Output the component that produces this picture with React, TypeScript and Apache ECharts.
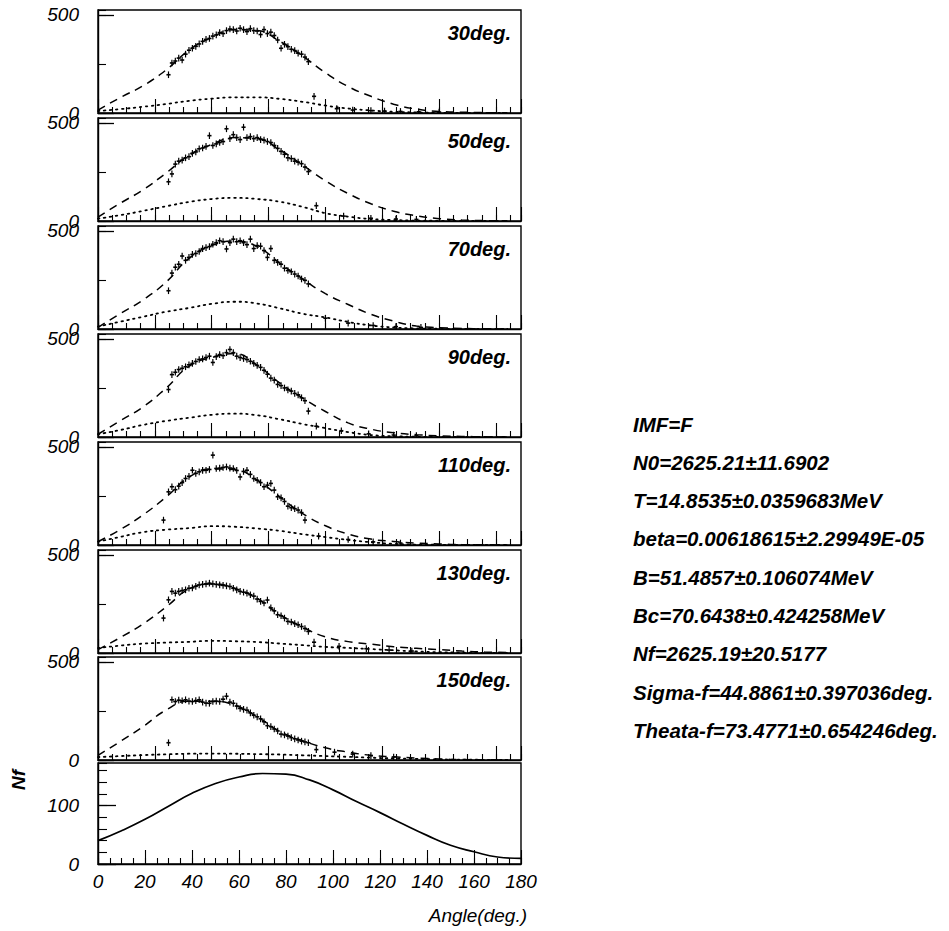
import React, { useEffect, useRef } from 'react';
import * as echarts from 'echarts';

// ---------- data ----------
const PANEL_LABELS = ['30deg.', '50deg.', '70deg.', '90deg.', '110deg.', '130deg.', '150deg.'];
const CURVE_X = [0, 10, 20, 30, 40, 50, 60, 70, 80, 90, 100, 110, 120, 130, 140, 150, 160, 170, 180];

const DASHED_30 = [15, 80, 140, 220, 320, 385, 425, 420, 365, 290, 205, 135, 85, 45, 20, 8, 4, 2, 1];
const DASHED_50 = [20, 92, 160, 245, 335, 390, 425, 420, 362, 285, 205, 140, 88, 50, 27, 12, 5, 2, 1];
const DASHED_70 = [8, 80, 150, 240, 360, 425, 448, 420, 335, 255, 180, 125, 75, 40, 15, 7, 3, 1, 0];
const DASHED_90 = [14, 84, 155, 250, 360, 405, 425, 365, 275, 198, 130, 72, 40, 22, 12, 6, 3, 1, 0];
const DASHED_110 = [17, 80, 155, 245, 345, 388, 385, 330, 245, 160, 98, 56, 30, 18, 10, 5, 2, 1, 0];
const DASHED_130 = [17, 80, 150, 235, 325, 352, 330, 278, 195, 132, 82, 58, 45, 32, 24, 17, 10, 5, 3];
const DASHED_150 = [24, 96, 172, 255, 300, 300, 280, 220, 145, 98, 62, 40, 24, 16, 10, 5, 2, 1, 0];

const DOTTED_30 = [10, 20, 32, 46, 62, 73, 80, 80, 72, 57, 38, 23, 13, 6, 3, 1, 0, 0, 0];
const DOTTED_50 = [12, 30, 52, 75, 97, 112, 118, 112, 98, 72, 40, 22, 10, 5, 2, 1, 0, 0, 0];
const DOTTED_70 = [12, 38, 63, 88, 107, 128, 139, 130, 105, 78, 59, 36, 18, 8, 3, 1, 0, 0, 0];
const DOTTED_90 = [14, 36, 62, 82, 98, 113, 119, 111, 90, 66, 45, 25, 10, 4, 1, 0, 0, 0, 0];
const DOTTED_110 = [17, 42, 66, 78, 86, 96, 93, 84, 72, 55, 40, 26, 14, 6, 2, 1, 0, 0, 0];
const DOTTED_130 = [25, 38, 48, 53, 57, 62, 60, 56, 48, 40, 31, 26, 20, 14, 8, 4, 2, 1, 0];
const DOTTED_150 = [15, 20, 25, 29, 32, 33, 32, 30, 28, 24, 20, 16, 12, 8, 6, 3, 2, 1, 0];

const DATA_X = [31, 32.5, 34, 35.5, 37, 38.5, 40, 41.5, 43, 44.5, 46, 47.5, 49, 50.5, 52, 53.5, 55, 56.5, 58, 59.5, 61,
  62.5, 64, 65.5, 67, 68.5, 70, 71.5, 73, 74.5, 76, 77.5, 79, 80.5, 82, 83.5, 85, 86.5, 88, 89.5, 91, 92.5];

const DATA_30 = [195, 255, 265, 280, 270, 300, 320, 330, 340, 352, 365, 375, 380, 392, 398, 410, 405, 420, 428, 425, 418,
  432, 425, 415, 430, 420, 418, 400, 425, 405, 412, 395, 372, 330, 350, 338, 325, 318, 305, 300, 285, 262];
const DATA_50 = [200, 240, 290, 305, 310, 322, 328, 345, 352, 368, 372, 380, 435, 385, 393, 400, 405, 470, 420, 440, 425,
  415, 478, 425, 430, 420, 425, 415, 412, 405, 400, 385, 370, 355, 340, 322, 318, 305, 300, 292, 275, 252];
const DATA_70 = [195, 285, 315, 330, 372, 350, 365, 380, 385, 395, 410, 415, 420, 432, 440, 450, 445, 408, 440, 458, 445,
  450, 440, 430, 458, 410, 425, 422, 400, 365, 410, 350, 340, 330, 310, 298, 292, 280, 270, 255, 248, 230];
const DATA_90 = [242, 318, 330, 344, 350, 358, 368, 375, 385, 395, 398, 405, 412, 380, 410, 420, 415, 430, 446, 430, 412,
  405, 400, 395, 386, 375, 365, 355, 340, 320, 300, 290, 268, 262, 250, 240, 234, 222, 215, 200, 185, 132];
const DATA_110 = [271, 297, 282, 300, 318, 339, 350, 381, 365, 373, 380, 381, 385, 458, 390, 392, 395, 398, 392, 390, 380,
  347, 375, 381, 360, 339, 330, 318, 297, 305, 314, 280, 246, 240, 222, 198, 190, 185, 178, 165, 127, null];
const DATA_130 = [271, 314, 305, 314, 318, 322, 330, 332, 340, 347, 350, 352, 356, 352, 350, 347, 345, 342, 339, 330, 322,
  314, 310, 305, 297, 290, 275, 263, 255, 270, 230, 215, 195, 190, 178, 161, 158, 150, 144, 135, 125, 110];
const DATA_150 = [null, 307, 298, 305, 302, 307, 300, 298, 303, 307, 295, 290, 289, 298, 300, 298, 310, 325, 295, 289, 275,
  263, 258, 254, 240, 228, 220, 210, 195, 175, 170, 158, 148, 132, 128, 122, 114, 108, 102, 96, 92, 88];

const EXTRA_30 = [[95, 85], [105, 22], [112, 15], [120, 12], [126, 10], [133, 8], [141, 6], [150, 5]];
const EXTRA_50 = [[96, 78], [108, 25], [120, 14], [131, 10], [140, 8]];
const EXTRA_70 = [[100, 55], [110, 30], [121, 18], [131, 12], [142, 8]];
const EXTRA_90 = [[96, 55], [107, 32], [119, 16], [130, 10], [140, 7]];
const EXTRA_110 = [[28.8, 127], [97, 45], [110, 28], [121, 16], [133, 10]];
const EXTRA_130 = [[28.8, 178], [95, 55], [106, 34], [118, 22], [128, 15], [138, 10]];
const EXTRA_150 = [[31, 88], [96, 53], [104, 40], [112, 30], [120, 22], [130, 15]];

const ERR_Y = 17;
const ERR_X = 0.6;

const NF_CURVE = [40, 57, 76.5, 99, 121, 138, 149, 155, 154, 144, 127, 107, 88, 68, 49, 32, 21, 12, 9.5];

const FIT_TEXT = [
  'IMF=F',
  'N0=2625.21\u00b111.6902',
  'T=14.8535\u00b10.0359683MeV',
  'beta=0.00618615\u00b12.29949E-05',
  'B=51.4857\u00b10.106074MeV',
  'Bc=70.6438\u00b10.424258MeV',
  'Nf=2625.19\u00b120.5177',
  'Sigma-f=44.8861\u00b10.397036deg.',
  'Theata-f=73.4771\u00b10.654246deg.',
];

const DASHED = [DASHED_30, DASHED_50, DASHED_70, DASHED_90, DASHED_110, DASHED_130, DASHED_150];
const DOTTED = [DOTTED_30, DOTTED_50, DOTTED_70, DOTTED_90, DOTTED_110, DOTTED_130, DOTTED_150];
const DATA = [DATA_30, DATA_50, DATA_70, DATA_90, DATA_110, DATA_130, DATA_150];
const EXTRA = [EXTRA_30, EXTRA_50, EXTRA_70, EXTRA_90, EXTRA_110, EXTRA_130, EXTRA_150];

// ---------- layout ----------
const PANEL_TOPS = [10, 118, 226, 334, 442, 550, 657];
const PANEL_H = 103;
const BOTTOM_TOP = 763;
const BOTTOM_H = 101;
const GRID_LEFT = 98;
const GRID_W = 423;
const FONT = '"Liberation Sans", Arial, sans-serif';

function buildOption() {
  const grid: any[] = [];
  const xAxis: any[] = [];
  const yAxis: any[] = [];
  const series: any[] = [];
  const graphic: any[] = [];

  const labelStyle = { fontFamily: FONT, fontStyle: 'italic', fontSize: 19, color: '#000' };

  for (let i = 0; i < 7; i++) {
    grid.push({ left: GRID_LEFT, top: PANEL_TOPS[i], width: GRID_W, height: PANEL_H, show: true, borderColor: '#000', borderWidth: 1.4 });
    xAxis.push({
      type: 'value', gridIndex: i, min: 0, max: 186, interval: 25, position: 'bottom',
      axisLine: { show: true, lineStyle: { color: '#000', width: 1.4 } },
      axisTick: { show: true, inside: true, length: 14, lineStyle: { color: '#000', width: 1.1 } },
      axisLabel: { show: false }, splitLine: { show: false },
    });
    xAxis.push({
      type: 'value', gridIndex: i, min: 0, max: 186, interval: 6.25, position: 'bottom',
      axisLine: { show: false },
      axisTick: { show: true, inside: true, length: 6, lineStyle: { color: '#000', width: 1.1 } },
      axisLabel: { show: false }, splitLine: { show: false },
    });
    yAxis.push({
      type: 'value', gridIndex: i, min: 0, max: 525, interval: 500, position: 'left',
      axisLine: { show: true, lineStyle: { color: '#000', width: 1.4 } },
      axisTick: { show: true, inside: true, length: 16, lineStyle: { color: '#000', width: 1.3 } },
      axisLabel: {
        show: true, margin: 19, ...labelStyle, showMaxLabel: false,
        formatter: (v: number) => (v === 0 || v === 500 ? String(v) : ''),
      },
      splitLine: { show: false },
    });
    yAxis.push({
      type: 'value', gridIndex: i, min: 0, max: 525, interval: 250, position: 'left',
      axisLine: { show: false },
      axisTick: { show: true, inside: true, length: 8, lineStyle: { color: '#000', width: 1.1 } },
      axisLabel: { show: false }, splitLine: { show: false },
    });

    const xi = 2 * i;
    series.push({
      type: 'line', xAxisIndex: xi, yAxisIndex: xi, showSymbol: false, smooth: 0.5,
      data: CURVE_X.map((x, k) => [x, DASHED[i][k]]),
      lineStyle: { color: '#000', width: 1.5, type: [8, 6] }, silent: true, z: 3,
    });
    series.push({
      type: 'line', xAxisIndex: xi, yAxisIndex: xi, showSymbol: false, smooth: 0.5,
      data: CURVE_X.map((x, k) => [x, DOTTED[i][k]]),
      lineStyle: { color: '#000', width: 1.8, type: [1.5, 4.5], cap: 'round' }, silent: true, z: 3,
    });
    const pts: any[] = [];
    DATA_X.forEach((x, k) => {
      const v = DATA[i][k];
      if (v !== null && v !== undefined) pts.push([x, v, ERR_Y]);
    });
    EXTRA[i].forEach((p) => pts.push([p[0], p[1], ERR_Y]));
    series.push({
      type: 'custom', xAxisIndex: xi, yAxisIndex: xi, clip: true, silent: true, z: 4,
      data: pts,
      renderItem: (params: any, api: any) => {
        const x = api.value(0), y = api.value(1), e = api.value(2);
        const t = api.coord([x, y + e]);
        const b = api.coord([x, Math.max(0, y - e)]);
        const l = api.coord([x - ERR_X, y]);
        const r = api.coord([x + ERR_X, y]);
        return {
          type: 'group',
          children: [
            { type: 'line', shape: { x1: t[0], y1: t[1], x2: b[0], y2: b[1] }, style: { stroke: '#000', lineWidth: 1.2 } },
            { type: 'line', shape: { x1: l[0] - 0.7, y1: l[1], x2: r[0] + 0.7, y2: r[1] }, style: { stroke: '#000', lineWidth: 1.6 } },
          ],
        };
      },
    });

    graphic.push({
      type: 'text', x: 511, y: PANEL_TOPS[i] + 23, z: 10,
      style: { text: PANEL_LABELS[i], font: `italic bold 20px ${FONT}`, fill: '#000', align: 'right', verticalAlign: 'middle' },
    });
  }

  // bottom panel
  grid.push({ left: GRID_LEFT, top: BOTTOM_TOP, width: GRID_W, height: BOTTOM_H, show: true, borderColor: '#000', borderWidth: 1.4 });
  xAxis.push({
    type: 'value', gridIndex: 7, min: 0, max: 180, interval: 20, position: 'bottom',
    axisLine: { show: true, lineStyle: { color: '#000', width: 1.4 } },
    axisTick: { show: true, inside: true, length: 14, lineStyle: { color: '#000', width: 1.1 } },
    axisLabel: { show: true, margin: 8, ...labelStyle },
    splitLine: { show: false },
  });
  xAxis.push({
    type: 'value', gridIndex: 7, min: 0, max: 180, interval: 5, position: 'bottom',
    axisLine: { show: false },
    axisTick: { show: true, inside: true, length: 6, lineStyle: { color: '#000', width: 1.1 } },
    axisLabel: { show: false }, splitLine: { show: false },
  });
  yAxis.push({
    type: 'value', gridIndex: 7, min: 0, max: 173, interval: 100, position: 'left',
    axisLine: { show: true, lineStyle: { color: '#000', width: 1.4 } },
    axisTick: { show: true, inside: true, length: 18, lineStyle: { color: '#000', width: 1.3 } },
    axisLabel: {
      show: true, margin: 19, ...labelStyle, showMaxLabel: false,
      formatter: (v: number) => (v === 0 || v === 100 ? String(v) : ''),
    },
    splitLine: { show: false },
  });
  yAxis.push({
    type: 'value', gridIndex: 7, min: 0, max: 173, interval: 20, position: 'left',
    axisLine: { show: false },
    axisTick: { show: true, inside: true, length: 9, lineStyle: { color: '#000', width: 1.1 } },
    axisLabel: { show: false }, splitLine: { show: false },
  });
  series.push({
    type: 'line', xAxisIndex: 14, yAxisIndex: 14, showSymbol: false, smooth: 0.5,
    data: CURVE_X.map((x, k) => [x, NF_CURVE[k]]),
    lineStyle: { color: '#000', width: 1.7 }, silent: true,
  });

  graphic.push({
    type: 'text', x: 527, y: 915, z: 10,
    style: { text: 'Angle(deg.)', font: `italic 19px ${FONT}`, fill: '#000', align: 'right', verticalAlign: 'middle' },
  });
  graphic.push({
    type: 'text', x: 18, y: 780, rotation: Math.PI / 2, z: 10,
    style: { text: 'Nf', font: `italic bold 19px ${FONT}`, fill: '#000', align: 'center', verticalAlign: 'middle' },
  });
  FIT_TEXT.forEach((t, k) => {
    graphic.push({
      type: 'text', x: 633, y: 424 + k * 38.3, z: 10,
      style: { text: t, font: `italic bold 20.5px ${FONT}`, fill: '#000', align: 'left', verticalAlign: 'middle' },
    });
  });

  return {
    animation: false,
    backgroundColor: '#fff',
    grid, xAxis, yAxis, series, graphic,
  };
}

export default function App() {
  const ref = useRef<HTMLDivElement>(null);
  useEffect(() => {
    document.body.style.margin = '0';
    if (!ref.current) return;
    const chart = echarts.init(ref.current, undefined, { renderer: 'svg' });
    chart.setOption(buildOption() as any);
    return () => chart.dispose();
  }, []);
  return <div ref={ref} style={{ width: 949, height: 931, background: '#fff' }} />;
}
